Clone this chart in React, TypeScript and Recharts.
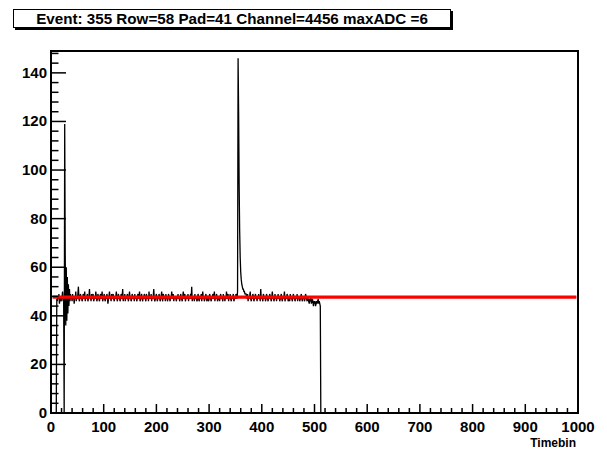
import React from "react";
import { LineChart, Line, XAxis, YAxis, ReferenceArea } from "recharts";

const titleText = "Event: 355 Row=58 Pad=41 Channel=4456 maxADC =6";
const xAxisTitle = "Timebin";

const xMajorTicks = [0, 100, 200, 300, 400, 500, 600, 700, 800, 900, 1000];
const yMajorTicks = [0, 20, 40, 60, 80, 100, 120, 140];
const xMinorStep = 20;
const yMinorStep = 4;
const xDomain = [0, 1000];
const yDomain = [0, 149];

// ADC per time bin
const leadBins = [0, 0, 0, 0, 0, 0, 0, 0, 0, 0, 0]; // bins 0-10
const earlyBaseline = [47, 46, 48, 47, 49, 45, 47, 48, 46, 47, 48, 50, 46, 47]; // bins 11-24
const firstPulse = [0, 119, 65, 36, 60, 38, 56, 41, 53, 44, 51, 46, 49]; // bins 25-37
const baselineA = [
  47, 48, 46, 49, 47, 48, 45, 48, 47, 50, 46, 48, 47, 49, 52, 47, 46, 48, 49, 47,
  48, 46, 47, 49, 48, 47, 50, 46, 48, 47, 48, 49, 46, 47, 48, 51, 47, 48, 46, 49,
  47, 48, 49, 46, 47, 48, 47, 50, 48, 46, 47, 49, 48, 47, 46, 48, 49, 47, 48, 50,
  46, 47, 48, 49, 47, 46, 48, 47, 49, 48, 45, 47, 48, 50, 47, 48, 46, 49, 47, 48,
  49, 47, 46, 48, 47, 48, 50, 47, 46, 48, 49, 47, 48, 46, 47, 49, 48, 47, 51, 46,
  48, 47, 49, 46, 48, 47, 48, 49, 47, 46, 48, 50, 47, 48, 46, 47, 49, 48, 47, 48,
  46, 49, 47, 48, 47, 46, 48, 49, 47, 48, 50, 46, 47, 48, 49, 47, 46, 48, 47, 49,
  48, 47, 46, 49, 48, 47, 48, 46, 50, 47, 48, 47, 49, 46, 48, 47, 48, 51, 47, 46,
  47, 48, 49, 47, 46, 48, 47, 49, 48, 46, 47, 48, 50, 47, 46, 49, 48, 47, 48, 46,
  49, 47, 48, 46, 47, 49, 48, 47, 46, 48, 47, 50, 48, 47, 49, 46, 48, 47, 48, 47,
  46, 48, 47, 49, 47, 48, 46, 47, 49, 48, 47, 46, 48, 50, 47, 48, 49, 46, 47, 48,
  48, 47, 49, 46, 48, 47, 48, 49, 47, 52, 46, 48, 47, 48, 46, 49, 47, 48, 47, 46,
  47, 49, 48, 46, 47, 48, 47, 49, 46, 48, 50, 47, 48, 46, 47, 48, 49, 47, 46, 48,
  48, 46, 47, 49, 48, 47, 46, 48, 47, 49, 48, 47, 50, 46, 48, 47, 49, 48, 46, 47,
  47, 48, 46, 48, 49, 47, 48, 47, 46, 49, 47, 48, 46, 48, 47, 50, 47, 48, 49, 46,
  48, 47, 49, 47, 46, 48, 47, 48, 49, 46, 47, 48, 47, 49, 48, 47,
]; // bins 38-353
const secondPulse = [50, 146, 124, 94, 75, 64, 58, 55, 53, 52, 51, 51, 50, 50, 49, 49, 49]; // bins 354-370
const baselineB = [
  48, 47, 49, 46, 48, 47, 48, 50, 47, 46, 48, 47, 49, 48, 46, 47, 48, 49, 47, 48,
  46, 48, 47, 49, 47, 48, 46, 51, 47, 48, 47, 46, 49, 48, 47, 48, 46, 47, 49, 48,
  47, 46, 48, 47, 49, 48, 47, 46, 48, 50, 47, 48, 46, 47, 49, 47, 48, 46, 48, 47,
  49, 47, 48, 46, 47, 48, 49, 47, 46, 48, 47, 48, 50, 46, 47, 48, 47, 49, 48, 46,
  47, 48, 46, 49, 47, 48, 47, 46, 48, 49, 47, 48, 46, 47, 48, 47, 49, 46, 48, 47,
  48, 46, 47, 48, 49, 47, 46, 48, 47, 48, 46, 47, 49, 48, 47, 46, 48, 47, 46, 45,
  47, 46, 48, 45, 46, 47, 46, 44, 46, 45, 46, 44, 45, 46, 45, 46, 47, 45, 46, 45, 44,
]; // bins 371-511
const trailBins = [0]; // bin 512

const pedestalBins = [3, 997];
const pedestalLevel = 47.7;

const adcValues = [
  ...leadBins,
  ...earlyBaseline,
  ...firstPulse,
  ...baselineA,
  ...secondPulse,
  ...baselineB,
  ...trailBins,
];
const signalData = adcValues.map((adc, bin) => ({ bin, adc }));
const pedestalData = pedestalBins.map((bin) => ({ bin, adc: pedestalLevel }));

const buildTicks = (max: number, step: number) => {
  const out: number[] = [];
  for (let v = 0; v <= max; v += step) out.push(v);
  return out;
};
const xTicks = buildTicks(xDomain[1], xMinorStep);
const yTicks = buildTicks(yDomain[1], yMinorStep);

const FONT = "'Liberation Sans', Arial, Helvetica, sans-serif";

const XTick = (props: any) => {
  const { x, y, payload } = props;
  const v = payload.value;
  const major = xMajorTicks.includes(v);
  return (
    <g>
      <line x1={x} x2={x} y1={y} y2={y - (major ? 9 : 5)} stroke="#000" strokeWidth={1.5} />
      {major && (
        <text x={x} y={y + 19} textAnchor="middle" fontFamily={FONT} fontWeight="bold" fontSize={15} fill="#000">
          {v}
        </text>
      )}
    </g>
  );
};

const YTick = (props: any) => {
  const { x, y, payload } = props;
  const v = payload.value;
  const major = yMajorTicks.includes(v);
  return (
    <g>
      <line x1={x} x2={x + (major ? 15 : 7.5)} y1={y} y2={y} stroke="#000" strokeWidth={1.5} />
      {major && (
        <text x={x - 4} y={y + 5} textAnchor="end" fontFamily={FONT} fontWeight="bold" fontSize={15} fill="#000">
          {v}
        </text>
      )}
    </g>
  );
};

export default function App() {
  return (
    <div style={{ position: "absolute", left: 0, top: 0, width: 607, height: 451, background: "#fff", overflow: "hidden" }}>
      <div
        style={{
          position: "absolute",
          left: 13,
          top: 9,
          width: 436,
          height: 17,
          border: "1px solid #000",
          boxShadow: "2px 2px 0 #000",
          background: "#fff",
          fontFamily: FONT,
          fontWeight: "bold",
          fontSize: 15.2,
          lineHeight: "17px",
          textAlign: "center",
          color: "#000",
          whiteSpace: "nowrap",
        }}
      >
        {titleText}
      </div>
      <LineChart width={607} height={451} margin={{ top: 51, right: 29, bottom: 0, left: 0 }}>
        <XAxis
          dataKey="bin"
          type="number"
          domain={xDomain}
          ticks={xTicks}
          interval={0}
          tickSize={0}
          tickMargin={0}
          tickLine={false}
          tick={<XTick />}
          height={38}
          axisLine={{ stroke: "#000", strokeWidth: 2 }}
          allowDataOverflow
        />
        <YAxis
          type="number"
          domain={yDomain}
          ticks={yTicks}
          interval={0}
          tickSize={0}
          tickMargin={0}
          tickLine={false}
          tick={<YTick />}
          width={51}
          axisLine={{ stroke: "#000", strokeWidth: 2 }}
          allowDataOverflow
        />
        <ReferenceArea x1={xDomain[0]} x2={xDomain[1]} y1={yDomain[0]} y2={yDomain[1]} fill="none" stroke="#000" strokeWidth={2} />
        <Line data={signalData} dataKey="adc" type="linear" dot={false} activeDot={false} stroke="#000" strokeWidth={1.3} isAnimationActive={false} />
        <Line data={pedestalData} dataKey="adc" type="linear" dot={false} activeDot={false} stroke="#ff0000" strokeWidth={3.2} isAnimationActive={false} />
      </LineChart>
      <div
        style={{
          position: "absolute",
          right: 31,
          top: 436,
          fontFamily: FONT,
          fontWeight: "bold",
          fontSize: 12,
          lineHeight: "14px",
          color: "#000",
        }}
      >
        {xAxisTitle}
      </div>
    </div>
  );
}
